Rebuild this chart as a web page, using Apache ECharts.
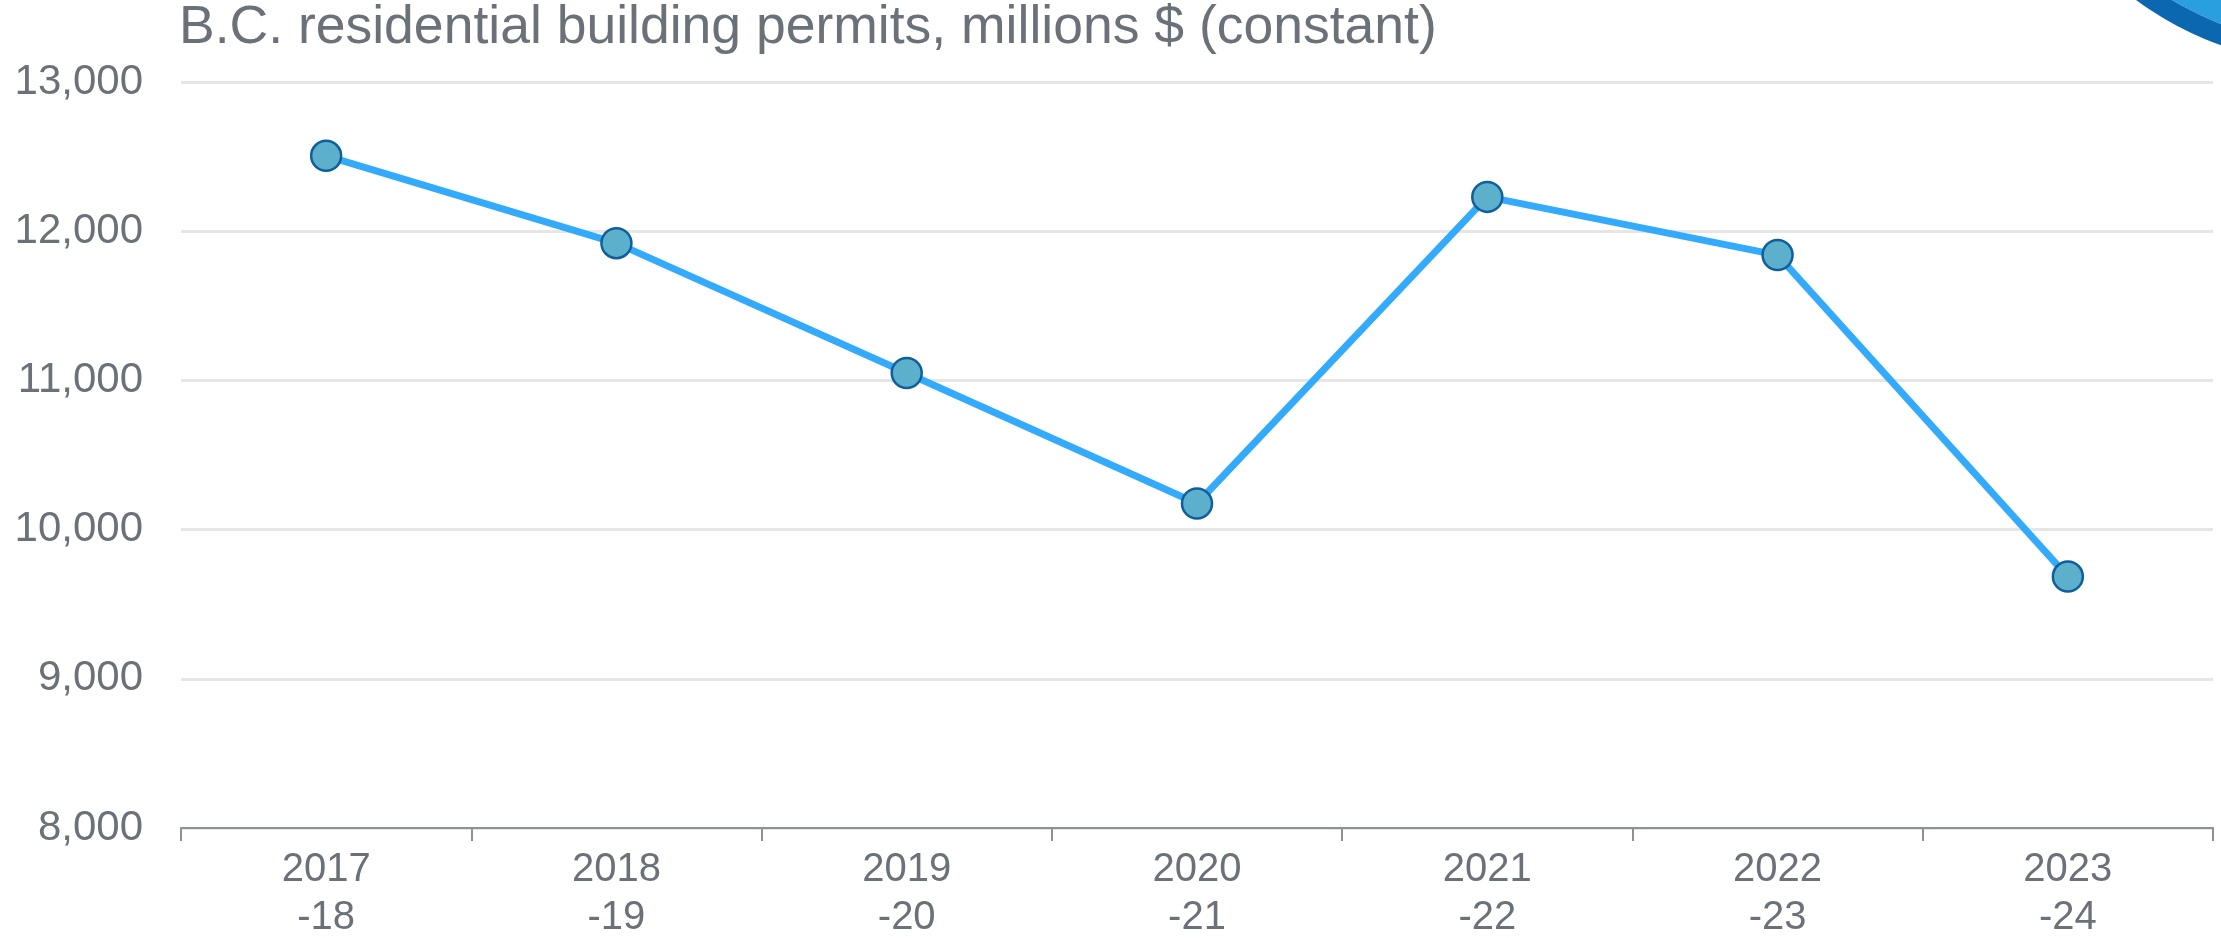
<!DOCTYPE html>
<html>
<head>
<meta charset="utf-8">
<script src="https://cdn.jsdelivr.net/npm/echarts@6/dist/echarts.min.js"></script>
<style>
  html, body { margin: 0; padding: 0; background: #fff; }
  #chart { width: 2221px; height: 938px; }
</style>
</head>
<body>
<div id="chart"></div>
<script>
const titleText = 'B.C. residential building permits, millions $ (constant)';
const years = ['2017\n-18', '2018\n-19', '2019\n-20', '2020\n-21', '2021\n-22', '2022\n-23', '2023\n-24'];
const permits = [12505, 11920, 11050, 10175, 12230, 11840, 9685];
const yTicks = { min: 8000, max: 13000, step: 1000 };

const textGray = '#6b7179';

const chart = echarts.init(document.getElementById('chart'));
chart.setOption({
    animation: false,
    title: {
        text: titleText,
        left: 174,
        top: -4,
        textStyle: { color: textGray, fontFamily: 'Liberation Sans', fontWeight: 'normal', fontSize: 53.5 }
    },
    graphic: [
        // corner swoosh, top right
        { type: 'circle', shape: { cx: 2330, cy: -262, r: 306 }, style: { fill: '#2a9fe0' } },
        { type: 'ring', shape: { cx: 2330, cy: -262, r: 326, r0: 306 }, style: { fill: '#0b68b0' } }
    ],
    grid: { left: 181, right: 8, top: 82, bottom: 110, outerBoundsMode: 'none', containLabel: false },
    xAxis: {
        type: 'category',
        data: years,
        boundaryGap: true,
        axisLine: { lineStyle: { color: '#8c9196', width: 2 } },
        axisTick: { show: true, length: 13, interval: 0, lineStyle: { color: '#8c9196', width: 2 } },
        axisLabel: {
            color: textGray, fontFamily: 'Liberation Sans', fontSize: 40,
            lineHeight: 48, margin: 18, interval: 0
        }
    },
    yAxis: {
        type: 'value',
        min: yTicks.min,
        max: yTicks.max,
        interval: yTicks.step,
        axisLine: { show: false },
        axisTick: { show: false },
        splitLine: { lineStyle: { color: '#e6e6e6', width: 3 } },
        axisLabel: {
            color: textGray, fontFamily: 'Liberation Sans', fontSize: 42, margin: 38,
            padding: [0, 0, 6, 0],
            formatter: (v) => v.toLocaleString('en-US')
        }
    },
    series: [{
        type: 'line',
        data: permits,
        symbol: 'circle',
        symbolSize: 30,
        lineStyle: { color: '#33aafb', width: 7 },
        itemStyle: { color: '#5cb0cb', borderColor: '#0f5f9e', borderWidth: 2.5 },
        z: 3
    }]
});
</script>
</body>
</html>
